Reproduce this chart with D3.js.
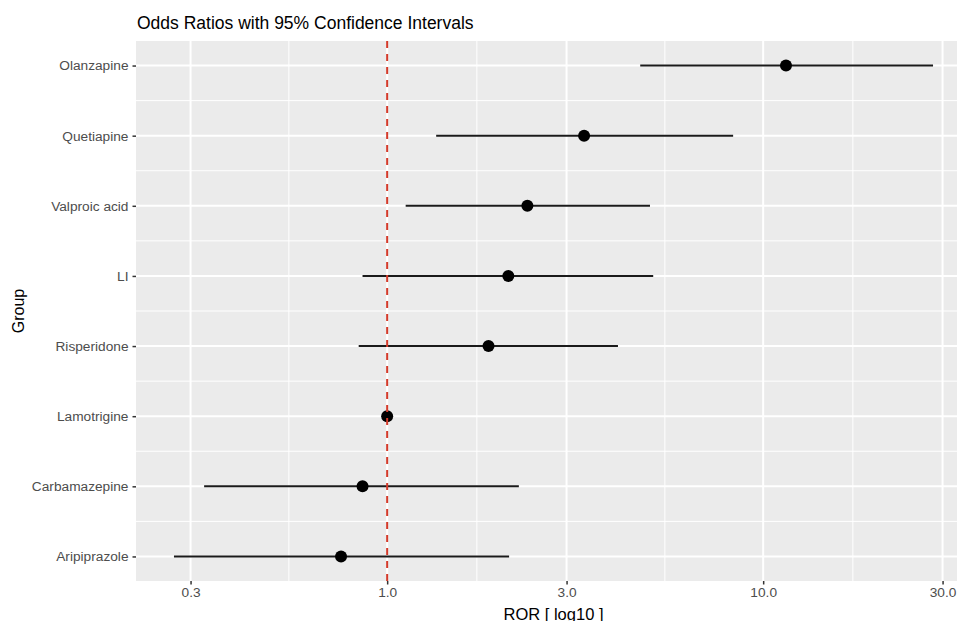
<!DOCTYPE html>
<html>
<head>
<meta charset="utf-8">
<script src="https://cdn.jsdelivr.net/npm/d3@7"></script>
<style>
  body { margin: 0; background: #fff; }
  svg { display: block; font-family: "Liberation Sans", Arial, sans-serif; }
</style>
</head>
<body>
<div id="chart"></div>
<script>
// groups, top to bottom
var groups = ["Olanzapine", "Quetiapine", "Valproic acid", "LI", "Risperidone", "Lamotrigine", "Carbamazepine", "Aripiprazole"];
var ror = [11.5, 3.34, 2.36, 2.10, 1.86, 1.0, 0.86, 0.754];
var lower = [4.71, 1.35, 1.12, 0.86, 0.84, 1.0, 0.326, 0.271];
var upper = [28.3, 8.32, 5.0, 5.1, 4.11, 1.0, 2.24, 2.11];
var xTicks = [0.3, 1, 3, 10, 30];
var refLine = 1;

var width = 957, height = 621;
var panel = { left: 136, right: 971, top: 41, bottom: 581 };

var dataset = groups.map(function (g, i) {
    return { group: g, ror: ror[i], lo: lower[i], hi: upper[i] };
});

// log scale with ggplot style 5% expansion
var lmin = Math.log10(d3.min(lower)), lmax = Math.log10(d3.max(upper));
var pad = (lmax - lmin) * 0.05;
var xScale = d3.scaleLog()
    .domain([Math.pow(10, lmin - pad), Math.pow(10, lmax + pad)])
    .range([panel.left, panel.right]);

var yScale = d3.scalePoint()
    .domain(groups)
    .range([panel.top, panel.bottom])
    .padding(0.35);

var svg = d3.select("#chart").append("svg")
    .attr("width", width)
    .attr("height", height);

svg.append("rect")
    .attr("x", panel.left).attr("y", panel.top)
    .attr("width", panel.right - panel.left)
    .attr("height", panel.bottom - panel.top)
    .attr("fill", "#ebebeb");

// minor grid: midpoints in log space / between groups
var minorX = [];
for (var i = 0; i < xTicks.length - 1; i++) minorX.push(Math.sqrt(xTicks[i] * xTicks[i + 1]));
svg.selectAll(".minor-x").data(minorX).enter().append("line")
    .attr("x1", function (d) { return xScale(d); })
    .attr("x2", function (d) { return xScale(d); })
    .attr("y1", panel.top).attr("y2", panel.bottom)
    .attr("stroke", "#fff").attr("stroke-width", 1);

var step = yScale.step();
var minorY = groups.slice(1).map(function (g) { return yScale(g) - step / 2; });
svg.selectAll(".minor-y").data(minorY).enter().append("line")
    .attr("x1", panel.left).attr("x2", panel.right)
    .attr("y1", function (d) { return d; })
    .attr("y2", function (d) { return d; })
    .attr("stroke", "#fff").attr("stroke-width", 1);

svg.selectAll(".major-x").data(xTicks).enter().append("line")
    .attr("x1", function (d) { return xScale(d); })
    .attr("x2", function (d) { return xScale(d); })
    .attr("y1", panel.top).attr("y2", panel.bottom)
    .attr("stroke", "#fff").attr("stroke-width", 2);

svg.selectAll(".major-y").data(groups).enter().append("line")
    .attr("x1", panel.left).attr("x2", panel.right)
    .attr("y1", function (d) { return yScale(d); })
    .attr("y2", function (d) { return yScale(d); })
    .attr("stroke", "#fff").attr("stroke-width", 2);

// axes
var xAxis = svg.append("g")
    .attr("transform", "translate(0," + panel.bottom + ")")
    .call(d3.axisBottom(xScale).tickValues(xTicks).tickFormat(d3.format(".1f")).tickSizeInner(3.5).tickSizeOuter(0).tickPadding(3));
var yAxis = svg.append("g")
    .attr("transform", "translate(" + panel.left + ",0)")
    .call(d3.axisLeft(yScale).tickSizeInner(3.5).tickSizeOuter(0).tickPadding(4));

[xAxis, yAxis].forEach(function (ax) {
    ax.select(".domain").remove();
    ax.selectAll("line").attr("stroke", "#333").attr("stroke-width", 1.5);
    ax.selectAll("text").attr("fill", "#4d4d4d").attr("font-size", "13.7px")
        .attr("font-family", "'Liberation Sans', Arial, sans-serif");
});

// error bars
svg.selectAll(".ci").data(dataset).enter().append("line")
    .attr("x1", function (d) { return xScale(d.lo); })
    .attr("x2", function (d) { return xScale(d.hi); })
    .attr("y1", function (d) { return yScale(d.group); })
    .attr("y2", function (d) { return yScale(d.group); })
    .attr("stroke", "#1a1a1a").attr("stroke-width", 2);

svg.selectAll(".dot").data(dataset).enter().append("circle")
    .attr("cx", function (d) { return xScale(d.ror); })
    .attr("cy", function (d) { return yScale(d.group); })
    .attr("r", 6)
    .attr("fill", "#000");

// reference line at 1
svg.append("line")
    .attr("x1", xScale(refLine)).attr("x2", xScale(refLine))
    .attr("y1", panel.top).attr("y2", panel.bottom)
    .attr("stroke", "#d43a2a").attr("stroke-width", 2)
    .attr("stroke-dasharray", "7,6");

// titles
svg.append("text")
    .attr("x", panel.left + 1).attr("y", 28.5)
    .attr("font-size", "17.5px").attr("fill", "#000")
    .text("Odds Ratios with 95% Confidence Intervals");

svg.append("text")
    .attr("x", (panel.left + panel.right) / 2).attr("y", 619.5)
    .attr("text-anchor", "middle")
    .attr("font-size", "16.5px").attr("fill", "#000")
    .text("ROR [ log10 ]");

svg.append("text")
    .attr("transform", "translate(24," + (panel.top + panel.bottom) / 2 + ") rotate(-90)")
    .attr("text-anchor", "middle")
    .attr("font-size", "16px").attr("fill", "#000")
    .text("Group");
</script>
</body>
</html>
